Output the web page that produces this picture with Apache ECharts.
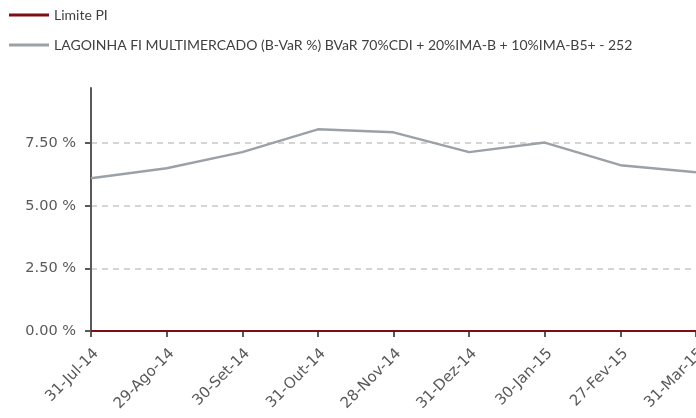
<!DOCTYPE html>
<html>
<head>
<meta charset="utf-8">
<script src="https://cdn.jsdelivr.net/npm/echarts@6/dist/echarts.min.js"></script>
<style>
  html, body { margin: 0; padding: 0; background: #fff; }
  #main { width: 696px; height: 418px; }
</style>
</head>
<body>
<div id="main"></div>
<script>
const categories = ['31-Jul-14', '29-Ago-14', '30-Set-14', '31-Out-14', '28-Nov-14',
  '31-Dez-14', '30-Jan-15', '27-Fev-15', '31-Mar-15'];
const limitePI = [0, 0, 0, 0, 0, 0, 0, 0, 0];
const lagoinha = [6.10, 6.50, 7.14, 8.05, 7.93, 7.14, 7.52, 6.62, 6.34];
const yTicks = [0, 2.5, 5, 7.5];

const chart = echarts.init(document.getElementById('main'));

const option = {
  animation: false,
  textStyle: { fontFamily: 'Lato, "Open Sans", sans-serif' },
  legend: {
    orient: 'vertical',
    left: 4,
    top: 3,
    itemGap: 16,
    itemWidth: 40,
    itemHeight: 17,
    textStyle: { fontSize: 14, color: '#404040', fontFamily: 'Lato, sans-serif' },
    data: [
      { name: 'Limite PI', icon: 'path://M0,0 L40,0 L40,3 L0,3 Z' },
      { name: 'LAGOINHA FI MULTIMERCADO (B-VaR %) BVaR 70%CDI + 20%IMA-B + 10%IMA-B5+ - 252', icon: 'path://M0,0 L40,0 L40,3 L0,3 Z' }
    ]
  },
  grid: { left: 91, right: 0, top: 88, bottom: 87, outerBoundsMode: 'none', containLabel: false },
  xAxis: {
    type: 'category',
    boundaryGap: false,
    data: categories,
    axisLine: { lineStyle: { color: '#595959', width: 2 } },
    axisTick: { show: true, length: 6, lineStyle: { color: '#595959', width: 2 } },
    axisLabel: {
      rotate: 45, color: '#595959', fontSize: 15, margin: 15,
      verticalAlign: 'top',
      fontFamily: '"DejaVu Sans", sans-serif'
    }
  },
  yAxis: {
    type: 'value',
    min: 0,
    max: 9.7,
    interval: 2.5,
    axisLine: { show: true, lineStyle: { color: '#595959', width: 2 } },
    axisTick: { show: true, length: 6, lineStyle: { color: '#595959', width: 2 } },
    axisLabel: {
      color: '#595959',
      fontSize: 14.5,
      margin: 15,
      fontFamily: '"DejaVu Sans", sans-serif',
      showMaxLabel: false,
      formatter: function (v) { return yTicks.indexOf(v) >= 0 ? v.toFixed(2) + ' %' : ''; }
    },
    splitLine: {
      show: true,
      showMinLine: false,
      showMaxLine: false,
      lineStyle: { color: '#c8c8c8', type: [6, 5], width: 1.5 }
    }
  },
  series: [
    {
      name: 'LAGOINHA FI MULTIMERCADO (B-VaR %) BVaR 70%CDI + 20%IMA-B + 10%IMA-B5+ - 252',
      type: 'line',
      data: lagoinha,
      symbol: 'none',
      lineStyle: { color: '#9ba1a7', width: 2.5 },
      itemStyle: { color: '#9ba1a7' }
    },
    {
      name: 'Limite PI',
      type: 'line',
      data: limitePI,
      symbol: 'none',
      z: 5,
      lineStyle: { color: '#7a1013', width: 2 },
      itemStyle: { color: '#7a1013' }
    }
  ]
};

chart.setOption(option);
</script>
</body>
</html>
